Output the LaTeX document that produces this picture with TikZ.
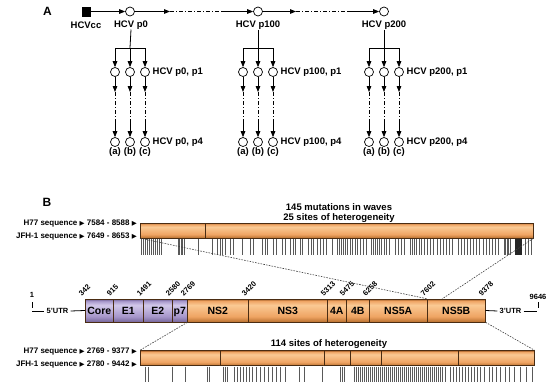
\documentclass[tikz,border=0pt]{standalone}
\usepackage{fontspec}
\setmainfont{Liberation Sans}
\newfontfamily\symfont{DejaVu Sans}
\usetikzlibrary{arrows.meta}
\definecolor{obot}{HTML}{B8702F}
\definecolor{omain}{HTML}{EFA463}
\definecolor{olight}{HTML}{FAC994}
\definecolor{otop}{HTML}{9A5520}
\definecolor{pbot}{HTML}{76659A}
\definecolor{pmain}{HTML}{A696CA}
\definecolor{plight}{HTML}{D2C8EA}
\definecolor{ptop}{HTML}{66568A}
\definecolor{edge}{HTML}{4A2C12}
\pgfdeclareverticalshading{obar}{100bp}{color(0bp)=(obot); color(25bp)=(obot); color(37bp)=(omain); color(62bp)=(olight); color(71bp)=(omain); color(75bp)=(otop); color(100bp)=(otop)}
\pgfdeclareverticalshading{pbar}{100bp}{color(0bp)=(pbot); color(25bp)=(pbot); color(37bp)=(pmain); color(62bp)=(plight); color(71bp)=(pmain); color(75bp)=(ptop); color(100bp)=(ptop)}
\newcommand{\tri}{{\symfont\fontsize{6.5}{7}\selectfont ▶}}
\tikzset{
  circ/.style={circle, draw, line width=0.7pt, minimum size=9pt, inner sep=0pt, fill=white},
  lbl/.style={font=\fontsize{9.5}{10}\selectfont\bfseries, inner sep=0pt},
  slbl/.style={font=\fontsize{8}{9}\selectfont\bfseries, inner sep=0pt},
  nlbl/.style={font=\fontsize{7.5}{8}\selectfont\bfseries, inner sep=0pt},
  seglbl/.style={font=\fontsize{10.5}{11}\selectfont\bfseries},
  plain/.style={line width=0.8pt},
  arr/.style={line width=0.8pt, -{Triangle[length=6pt,width=4.6pt]}},
  dd/.style={line width=0.8pt, dash pattern=on 4pt off 2pt on 1pt off 2pt},
  oseg/.style={shade, shading=obar, draw=edge, line width=0.5pt, inner sep=0pt, anchor=west},
  pseg/.style={shade, shading=pbar, draw=edge, line width=0.5pt, inner sep=0pt, anchor=west},
  zoomline/.style={draw=black!75, line width=0.6pt, dash pattern=on 1.6pt off 1.2pt},
  tick/.style={draw=black!65, line width=0.8pt},
}
\begin{document}
\begin{tikzpicture}[x=1pt,y=-1pt]
\useasboundingbox (0,0) rectangle (550,386);
% ---------------- A ----------------
\node[font=\fontsize{12}{12}\selectfont\bfseries, inner sep=0pt] (labA) at (47.5,11) {A};
\node[draw, fill=black, minimum size=8.5pt, inner sep=0pt] (cc) at (86,11.5) {};
\node[lbl] (ccl) at (86,25) {HCVcc};
\node[circ] (p0) at (130,11.5) {};
\node[circ] (p100) at (258,11.5) {};
\node[circ] (p200) at (384,11.5) {};
\node[lbl] (p0l) at (131,25) {HCV p0};
\node[lbl] (p100l) at (258,25) {HCV p100};
\node[lbl] (p200l) at (384,25) {HCV p200};
\draw[arr] (cc) -- (p0);
\coordinate (m1) at (170,11.5); \coordinate (m2) at (222,11.5);
\coordinate (m3) at (296,11.5); \coordinate (m4) at (348,11.5);
\draw[arr] (p0) -- (m1); \draw[dd] (m1) -- (m2); \draw[arr] (m2) -- (p100);
\draw[arr] (p100) -- (m3); \draw[dd] (m3) -- (m4); \draw[arr] (m4) -- (p200);
\foreach \pn/\x in {p0/130,p100/258,p200/384}{
  \coordinate (\pn j) at (\x,48);
  \coordinate (\pn jl) at (\x-15,48);
  \coordinate (\pn jr) at (\x+15,48);
  \draw[plain] (\pn l.south) -- (\pn j);
  \draw[plain] (\pn jl) -- (\pn jr);
  \foreach \k/\dx/\t in {a/-15/{(a)},b/0/{(b)},c/15/{(c)}}{
    \node[circ] (\pn\k1) at (\x+\dx,72) {};
    \node[circ] (\pn\k4) at (\x+\dx,142) {};
    \coordinate (\pn\k t) at (\x+\dx,48);
    \coordinate (\pn\k u) at (\x+\dx,92);
    \coordinate (\pn\k v) at (\x+\dx,122);
    \draw[arr] (\pn\k t) -- (\pn\k1);
    \draw[arr] (\pn\k1) -- (\pn\k u);
    \draw[dd] (\pn\k u) -- (\pn\k v);
    \draw[arr] (\pn\k v) -- (\pn\k4);
    \node[lbl] (\pn\k l) at (\x+\dx,152.5) {\t};
  }
  \node[lbl, anchor=west] (\pn l1) at (\x+22.5,72) {HCV \pn, p1};
  \node[lbl, anchor=west] (\pn l4) at (\x+22.5,142) {HCV \pn, p4};
}
% ---------------- B ----------------
\node[font=\fontsize{12}{12}\selectfont\bfseries, inner sep=0pt] (labB) at (47,202) {B};
\node[lbl, align=center, font=\fontsize{9.5}{10.5}\selectfont\bfseries] (t145) at (339,213) {145 mutations in waves\\25 sites of heterogeneity};
\node[slbl, anchor=east] (h77a) at (137,223.3) {H77 sequence \tri{} 7584 - 8588 \tri};
\node[slbl, anchor=east] (jfha) at (137,237) {JFH-1 sequence \tri{} 7649 - 8653 \tri};
% top ticks
\foreach \t in {141,143,145,147,149,151,153,155,157,159,161,178,179.5,181,182.5,184,198,212,217,220,222,225,230,233,242,250,253,262,265,267,273,276,282,285,290,293,295,300,302,308,311,313,317,320,323,326,332,337,339,341,343,345,347,350,352,355,357,360,363,366,371,373,375,377,379,381,384,386,389,395,398,401,404,410,412,414,416,419,421,424,427,430,433,437,440,443,446,449,452,458,461,464,467,470,473,476,479,483,486,489,492,495,498,504,505.5,507,508.5,510,525,528,531}
  {\draw[tick] (\t,239) -- (\t,255);}
\fill[black!85] (515,239) rectangle (522,255);
% top bar
\node[oseg, minimum width=393pt, minimum height=15pt] (tb) at (140,230.5) {};
\draw[draw=edge, line width=0.8pt] (205.7,223) -- (205.7,238);
% genome bar
\foreach \nm/\a/\b/\txt/\st in {core/85/113/Core/pseg, e1/113/143/E1/pseg, e2/143/172/E2/pseg, p7/172/187/p7/pseg, ns2/187/248/NS2/oseg, ns3/248/327/NS3/oseg, na4/327/346/4A/oseg, nb4/346/369/4B/oseg, ns5a/369/427/NS5A/oseg, ns5b/427/485/NS5B/oseg}{
  \pgfmathsetmacro{\w}{\b-\a}
  \node[\st, seglbl, minimum width=\w pt, minimum height=23pt, text depth=0pt] (\nm) at (\a,310.5) {\txt};
}
\foreach \nm/\a/\v in {n342/85/342, n915/113/915, n1491/143/1491, n2580/172/2580, n2769/187/2769, n3420/248/3420, n5313/327/5313, n5475/346/5475, n6258/369/6258, n7602/427/7602, n9378/485/9378}{
  \node[nlbl, rotate=45, anchor=south west] (\nm) at (\a-3,297) {\v};
}
% UTRs
\coordinate (lend) at (32,311);
\coordinate (rend) at (537,311);
\node[nlbl, inner sep=2pt] (utr5) at (57.5,311) {5'UTR};
\node[nlbl, inner sep=2pt] (utr3) at (510.5,311) {3'UTR};
\draw[plain] (lend) -- (utr5.west);
\draw[plain] (utr5.east) -- (core.west);
\draw[plain] (ns5b.east) -- (utr3.west);
\draw[plain] (utr3.east) -- (rend);
\node[nlbl] (one) at (32,295) {1};
\node[nlbl] (end) at (538,296.5) {9646};
\coordinate (lt1) at (32,302); \coordinate (lt2) at (32,308);
\coordinate (rt1) at (538,302); \coordinate (rt2) at (538,308);
\draw[plain] (lt1) -- (lt2);
\draw[plain] (rt1) -- (rt2);
% bottom labels
\node[lbl, font=\fontsize{9.5}{10}\selectfont\bfseries] (t114) at (329,344) {114 sites of heterogeneity};
\node[slbl, anchor=east] (h77b) at (137,351.5) {H77 sequence \tri{} 2769 - 9377 \tri};
\node[slbl, anchor=east] (jfhb) at (137,364.6) {JFH-1 sequence \tri{} 2780 - 9442 \tri};
% bottom ticks
\foreach \t in {145,148,172,185,207,209,223,225,227,234,237,240,243,246,249,252,256,260,264,268,272,276,280,285,299,304,322,340,342,344,354,356,358,360,362,364,366,368,370,372,374,376,378,380,382,384,386,388,390,392,394,396,398,400,402,404,406,408,410,412,414,416,418,420,422,424,426,428,430,432,434,436,438,440,442,445,450,453,456,459,462,465,468,471,474,477,480,484,489,492,496,500,505,509,514,520,526,532}
  {\draw[tick] (\t,366.5) -- (\t,382);}
% bottom bar
\foreach \nm/\a/\b in {b1/140/219.6, b2/219.6/323.6, b3/323.6/350, b4/350/381, b5/381/457.5, b6/457.5/534}{
  \pgfmathsetmacro{\w}{\b-\a}
  \node[oseg, minimum width=\w pt, minimum height=15.2pt] (\nm) at (\a,358.1) {};
}
% zoom lines
\coordinate (zt) at (442,299);
\draw[zoomline] (tb.south west) -- (ns5b.north west);
\draw[zoomline] (tb.south east) -- (zt);
\draw[zoomline] (p7.south east) -- (b1.north west);
\draw[zoomline] (ns5b.south east) -- (b6.north east);
\end{tikzpicture}
\end{document}
